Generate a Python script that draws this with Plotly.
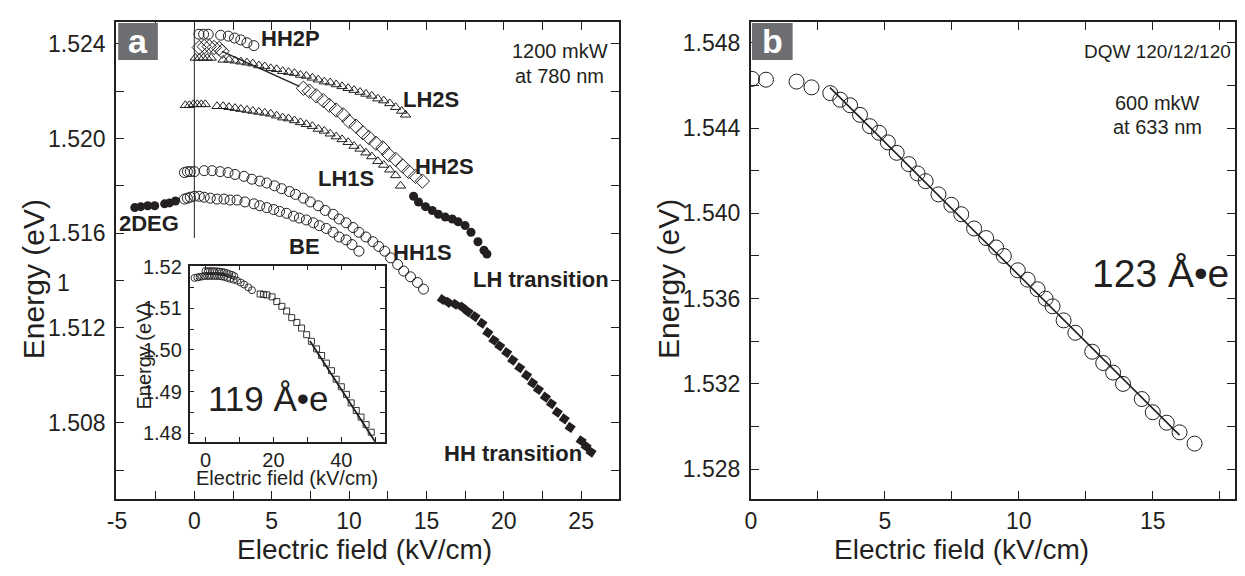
import plotly.graph_objects as go

# ---------------- Panel a : main data ----------------
hh2p_x = [0.3, 0.6, 0.9, 1.7, 2.2, 2.6, 3.0, 3.4, 3.85]
hh2p_E = [1.5244, 1.5244, 1.5244, 1.52436, 1.52432, 1.52424, 1.52416, 1.52404, 1.52392]

hh2s_x = [0.32, 0.64, 0.96, 1.28, 1.6, 1.79,
          7.05, 7.44, 7.88, 8.33, 8.72, 9.17, 9.62, 10.0, 10.45, 10.9, 11.28, 11.73,
          12.18, 12.56, 13.01, 13.46, 13.85, 14.29, 14.74]
hh2s_E = [1.52384, 1.52388, 1.52388, 1.52384, 1.5238, 1.52368,
          1.52212, 1.522, 1.5218, 1.5216, 1.5214, 1.5212, 1.521, 1.52072, 1.52052, 1.52024, 1.52004, 1.5198,
          1.5196, 1.51932, 1.51912, 1.51884, 1.5186, 1.5184, 1.5182]
hh2s_fit_x = [1.79, 6.79]
hh2s_fit_E = [1.52368, 1.5222]

lh2s_x = [0.06, 0.32, 0.58, 0.83, 1.09, 1.86, 2.24, 2.63, 3.01, 3.40, 3.78, 4.17, 4.55, 4.94, 5.32,
          5.71, 6.09, 6.47, 6.86, 7.24, 7.63, 8.01, 8.40, 8.78, 9.17, 9.55, 9.94, 10.32, 10.71,
          11.09, 11.47, 11.86, 12.24, 12.63, 13.01, 13.40, 13.65]
lh2s_E = [1.5234, 1.5234, 1.5234, 1.5234, 1.5234, 1.52332, 1.52332, 1.52328, 1.52324, 1.5232, 1.52316,
          1.52308, 1.52304, 1.52296, 1.52292, 1.52284, 1.5228, 1.52276, 1.52268, 1.52264, 1.52256,
          1.52248, 1.5224, 1.52236, 1.52228, 1.5222, 1.52212, 1.52204, 1.52196, 1.52188, 1.5218,
          1.52168, 1.5216, 1.52148, 1.52132, 1.52116, 1.521]

lh1s_x = [-0.58, -0.32, -0.06, 0.19, 0.45, 0.71, 1.47, 1.86, 2.24, 2.63, 3.01, 3.40, 3.78, 4.17, 4.55,
          4.94, 5.32, 5.71, 6.09, 6.47, 6.86, 7.24, 7.63, 8.01, 8.40, 8.78, 9.17, 9.55, 9.94, 10.32,
          10.71, 11.09, 11.47, 11.86, 12.24, 12.63, 13.01, 13.33]
lh1s_E = [1.5214, 1.5214, 1.52144, 1.52144, 1.52144, 1.52144, 1.52136, 1.52136, 1.52132, 1.52128,
          1.52124, 1.5212, 1.52116, 1.52112, 1.52108, 1.52104, 1.52096, 1.52088, 1.52084, 1.52076,
          1.52068, 1.5206, 1.52052, 1.5204, 1.52032, 1.5202, 1.52008, 1.51996, 1.51984, 1.51968,
          1.51956, 1.5194, 1.51924, 1.51904, 1.51888, 1.51868, 1.51844, 1.518]

hh1s_x = [-0.64, -0.45, -0.26, 0.0, 0.64, 1.15, 1.67, 2.18, 2.63, 3.21, 3.72, 4.23, 4.68, 5.19, 5.64,
          6.15, 6.54, 7.05, 7.5, 8.01, 8.46, 8.97, 9.36, 9.81, 10.26, 10.64, 11.09, 11.54, 11.92,
          12.31, 12.69, 13.14, 13.53, 13.97, 14.42, 14.81]
hh1s_E = [1.51856, 1.5186, 1.5186, 1.5186, 1.51864, 1.51864, 1.5186, 1.51856, 1.51848, 1.5184,
          1.51828, 1.5182, 1.51812, 1.518, 1.51788, 1.51776, 1.51764, 1.51748, 1.51732, 1.51716,
          1.51696, 1.5168, 1.5166, 1.51644, 1.51624, 1.51604, 1.51584, 1.51564, 1.51544, 1.51524,
          1.51496, 1.51468, 1.5144, 1.51416, 1.51392, 1.51364]

be_x = [-0.64, -0.45, -0.26, 0.0, 0.32, 0.64, 1.03, 1.47, 1.92, 2.31, 2.76, 3.27, 3.85, 4.23, 4.68,
        5.13, 5.51, 5.96, 6.41, 6.79, 7.24, 7.69, 8.08, 8.53, 8.97, 9.36, 9.81, 10.19, 10.64]
be_E = [1.51744, 1.51748, 1.51752, 1.51756, 1.51756, 1.51752, 1.51748, 1.51744, 1.51744, 1.5174,
        1.5174, 1.51732, 1.51724, 1.51716, 1.51708, 1.517, 1.51692, 1.51684, 1.51672, 1.51664,
        1.51656, 1.51644, 1.51632, 1.5162, 1.51604, 1.51584, 1.51572, 1.51552, 1.51524]

deg2_x = [-3.85, -3.46, -3.01, -2.56, -1.92, -1.6, -1.22]
deg2_E = [1.51708, 1.51712, 1.51716, 1.51716, 1.51724, 1.51728, 1.51736]

lh_tr_x = [14.17, 14.49, 14.94, 15.38, 15.77, 16.22, 16.67, 17.05, 17.5, 17.88, 18.33, 18.72, 18.91]
lh_tr_E = [1.51756, 1.51732, 1.51712, 1.51696, 1.5168, 1.51668, 1.5166, 1.51648, 1.51632, 1.51604,
           1.51564, 1.51528, 1.51512]

hh_tr_x = [16.03, 16.41, 16.86, 17.31, 17.69, 18.14, 18.59, 18.97, 19.36, 19.74, 20.19, 20.58, 21.03,
           21.47, 21.86, 22.24, 22.69, 23.08, 23.46, 23.91, 24.29, 25.0, 25.32, 25.64]
hh_tr_E = [1.5132, 1.51308, 1.513, 1.51288, 1.51268, 1.51248, 1.5122, 1.5118, 1.51148, 1.51124,
           1.51096, 1.51064, 1.51032, 1.51, 1.50968, 1.5094, 1.50908, 1.5088, 1.50844, 1.50816,
           1.5078, 1.50724, 1.507, 1.50676]

zero_x = [0, 0]
zero_E = [1.5158, 1.5246]

# ---------------- Panel a : inset ----------------
ins_lo_x = [-3.2, -2.4, -1.75, -1.0, -0.3, 0.5, 1.17, 1.9, 2.63, 3.4, 4.09, 4.8, 5.55, 6.4, 7.3,
            8.3, 9.34, 10.4, 11.4, 12.6, 13.7]
ins_lo_E = [1.51727, 1.5174, 1.5175, 1.5176, 1.51773, 1.51773, 1.51773, 1.51775, 1.51773, 1.51773,
            1.51773, 1.51762, 1.5175, 1.5173, 1.51705, 1.51683, 1.51659, 1.51615, 1.51568, 1.515,
            1.51432]
ins_up_x = [0.0, 0.7, 1.3, 2.0, 2.6, 3.4, 4.1, 4.8, 5.5, 6.3, 7.0, 7.8, 8.5]
ins_up_E = [1.5189, 1.5189, 1.5189, 1.5189, 1.5189, 1.51885, 1.5188, 1.5187, 1.5186, 1.5184,
            1.5182, 1.518, 1.5177]
ins_sq_x = [16.1, 17.1, 18.1, 19.6, 21.0, 22.5, 23.9, 25.4, 26.9, 28.3, 29.8, 31.2, 32.7, 34.2, 35.6,
            37.1, 38.5, 40.0, 41.5, 42.9, 44.4, 45.8, 47.3, 48.8]
ins_sq_E = [1.51341, 1.5133, 1.51318, 1.51273, 1.51159, 1.51045, 1.50932, 1.50773, 1.50659, 1.50523,
            1.50364, 1.50205, 1.50023, 1.49864, 1.49682, 1.495, 1.49295, 1.49114, 1.48932,
            1.48727, 1.48545, 1.48386, 1.48205, 1.48023]
ins_fit_x = [30.75, 52.5]
ins_fit_E = [1.50211, 1.47475]

# ---------------- Panel b ----------------
b_x = [0.04, 0.56, 1.7, 2.26, 2.96, 3.33, 3.7, 4.07, 4.44, 4.78, 5.11, 5.44, 5.89, 6.22, 6.52, 7.0,
       7.48, 7.85, 8.33, 8.78, 9.15, 9.44, 9.96, 10.33, 10.7, 11.0, 11.26, 11.67, 12.11, 12.74,
       13.15, 13.52, 13.89, 14.59, 15.0, 15.52, 16.0, 16.56]
b_E = [1.54631, 1.54627, 1.54618, 1.54591, 1.54564, 1.54533, 1.54507, 1.54462, 1.54409, 1.54378,
       1.54333, 1.54284, 1.54231, 1.54187, 1.54151, 1.54089, 1.5404, 1.53996, 1.53929, 1.53884,
       1.5384, 1.538, 1.53733, 1.53689, 1.53644, 1.536, 1.53564, 1.53498, 1.5344, 1.53351,
       1.53298, 1.53253, 1.532, 1.53129, 1.53067, 1.53018, 1.52973, 1.5292]
b_fit_x = [2.95, 16.0]
b_fit_E = [1.5459, 1.5296]

# ---------------- ticks ----------------
a_xtick_vals = [-5, 0, 5, 10, 15, 20, 25]
a_xtick_text = ["-5", "0", "5", "10", "15", "20", "25"]
a_xminor = [-2.5, 2.5, 7.5, 12.5, 17.5, 22.5]
a_ytick_vals = [1.508, 1.512, 1.516, 1.520, 1.524]
a_ytick_text = ["1.508", "1.512", "1.516", "1.520", "1.524"]
a_yminor = [1.506, 1.510, 1.514, 1.518, 1.522]

in_xtick_vals = [0, 20, 40]
in_xtick_text = ["0", "20", "40"]
in_xminor = [10, 30, 50]
in_ytick_vals = [1.48, 1.49, 1.50, 1.51, 1.52]
in_ytick_text = ["1.48", "1.49", "1.50", "1.51", "1.52"]
in_yminor = [1.485, 1.495, 1.505, 1.515]

b_xtick_vals = [0, 5, 10, 15]
b_xtick_text = ["0", "5", "10", "15"]
b_xminor = [2.5, 7.5, 12.5, 17.5]
b_ytick_vals = [1.528, 1.532, 1.536, 1.540, 1.544, 1.548]
b_ytick_text = ["1.528", "1.532", "1.536", "1.540", "1.544", "1.548"]
b_yminor = [1.530, 1.534, 1.538, 1.542, 1.546]

# ---------------- figure ----------------
PAGE_OFF = 8               # default page margin around the plot div
W, H = 1245 - 2 * PAGE_OFF, 576 - 2 * PAGE_OFF
INK = "#231f20"
FONT = "Liberation Sans, Arial, sans-serif"

def px(x):
    return (x - PAGE_OFF) / W

def py(y):
    return 1 - (y - PAGE_OFF) / H

fig = go.Figure()

def scatter(x, y, xa, ya, symbol, size, filled=False, angle=0, lw=1.0):
    if filled:
        marker = dict(symbol=symbol, size=size, color=INK, angle=angle, line=dict(width=0))
    else:
        marker = dict(symbol=symbol, size=size, color=INK, angle=angle, line=dict(width=lw, color=INK))
    fig.add_trace(go.Scatter(x=x, y=y, mode="markers", marker=marker, xaxis=xa, yaxis=ya,
                             showlegend=False, hoverinfo="skip"))

def line(x, y, xa, ya, width=1.3):
    fig.add_trace(go.Scatter(x=x, y=y, mode="lines", line=dict(color=INK, width=width),
                             xaxis=xa, yaxis=ya, showlegend=False, hoverinfo="skip"))

# panel a
line(zero_x, zero_E, "x", "y", 1.0)
line(hh2s_fit_x, hh2s_fit_E, "x", "y", 1.3)
scatter(hh2p_x, hh2p_E, "x", "y", "circle-open", 10)
scatter(hh2s_x, hh2s_E, "x", "y", "diamond-open", 11)
scatter(lh2s_x, lh2s_E, "x", "y", "triangle-up-open", 9)
scatter(lh1s_x, lh1s_E, "x", "y", "triangle-up-open", 9)
scatter(hh1s_x, hh1s_E, "x", "y", "circle-open", 10)
scatter(be_x, be_E, "x", "y", "circle-open", 10)
scatter(deg2_x, deg2_E, "x", "y", "circle", 9, filled=True)
scatter(lh_tr_x, lh_tr_E, "x", "y", "circle", 9, filled=True)
scatter(hh_tr_x, hh_tr_E, "x", "y", "square", 8, filled=True, angle=35)

# inset
line(ins_fit_x, ins_fit_E, "x3", "y3", 1.8)
scatter(ins_lo_x, ins_lo_E, "x3", "y3", "circle-open", 7, lw=0.9)
scatter(ins_up_x, ins_up_E, "x3", "y3", "circle-open", 7, lw=0.9)
scatter(ins_sq_x, ins_sq_E, "x3", "y3", "square-open", 6, lw=0.9)

# panel b
line(b_fit_x, b_fit_E, "x2", "y2", 1.6)
scatter(b_x, b_E, "x2", "y2", "circle-open", 15)

def axis(domain, rng, vals, text, minor_vals, anchor, size=23, lw=2, tlen=8, standoff=5):
    return dict(domain=domain, range=rng, anchor=anchor, showline=True, linewidth=lw,
                linecolor=INK, mirror="ticks", ticks="inside", ticklen=tlen, tickwidth=1.3,
                tickcolor=INK, tickmode="array", tickvals=vals, ticktext=text,
                tickfont=dict(family=FONT, size=size, color=INK),
                minor=dict(tickmode="array", tickvals=minor_vals, ticks="inside",
                           ticklen=tlen, tickwidth=1.3, tickcolor=INK),
                showgrid=False, zeroline=False, ticklabelstandoff=standoff, fixedrange=True)

TOP, BOTTOM = 12, 500

fig.update_layout(
    width=W, height=H,
    margin=dict(l=0, r=0, t=0, b=0),
    paper_bgcolor="white", plot_bgcolor="white",
    font=dict(family=FONT, color=INK),
    xaxis=axis([px(108), px(615)], [-5.05, 27.45], a_xtick_vals, a_xtick_text, a_xminor, "y",
               standoff=0),
    yaxis=axis([py(BOTTOM), py(TOP)], [1.50476, 1.52492], a_ytick_vals, a_ytick_text, a_yminor, "x",
               standoff=4),
    xaxis2=axis([px(748), px(1236)], [0, 18.07], b_xtick_vals, b_xtick_text, b_xminor, "y2",
                standoff=0),
    yaxis2=axis([py(BOTTOM), py(TOP)], [1.52658, 1.54898], b_ytick_vals, b_ytick_text, b_yminor, "x2",
                standoff=4),
    xaxis3=axis([px(182), px(379)], [-4.67, 52.85], in_xtick_vals, in_xtick_text, in_xminor, "y3",
                size=20, lw=1.5, tlen=5, standoff=0),
    yaxis3=axis([py(441), py(261)], [1.47795, 1.52023], in_ytick_vals, in_ytick_text, in_yminor, "x3",
                size=20, lw=1.5, tlen=5, standoff=2),
)

# panel label boxes
for x0, x1 in [(110, 150), (749, 790)]:
    fig.add_shape(type="rect", xref="paper", yref="paper", x0=px(x0), x1=px(x1),
                  y0=py(51), y1=py(13), fillcolor="#6d6e71", line=dict(width=0), layer="above")

ann = []

def txt(text, x, y, size, xref="paper", yref="paper", bold=False, color=INK, angle=0,
        xanchor="center", yanchor="middle"):
    ann.append(dict(text=("<b>%s</b>" % text) if bold else text, x=x, y=y, xref=xref, yref=yref,
                    showarrow=False, font=dict(family=FONT, size=size, color=color),
                    textangle=angle, xanchor=xanchor, yanchor=yanchor))

txt("a", px(130), py(31), 34, bold=True, color="white")
txt("b", px(770), py(31), 34, bold=True, color="white")

# axis titles
txt("Energy (eV)", px(24), py(275), 30, angle=-90)
txt("Electric field (kV/cm)", px(358), py(551), 28)
txt("Energy (eV)", px(665), py(275), 30, angle=-90)
txt("Electric field (kV/cm)", px(960), py(551), 28)
txt("1", px(55), py(279), 23)

# inset titles
txt("Energy (eV)", px(136), py(353), 20, angle=-90)
txt("Electric field (kV/cm)", px(280), py(478), 20)

# panel a curve labels (data coordinates)
txt("HH2P", 6.2, 1.52424, 22, "x", "y", bold=True)
txt("LH2S", 15.3, 1.52164, 22, "x", "y", bold=True)
txt("LH1S", 9.8, 1.51832, 22, "x", "y", bold=True)
txt("HH2S", 16.2, 1.5188, 22, "x", "y", bold=True)
txt("HH1S", 14.74, 1.5152, 22, "x", "y", bold=True)
txt("BE", 7.1, 1.51544, 22, "x", "y", bold=True)
txt("2DEG", -2.95, 1.5164, 22, "x", "y", bold=True)
txt("LH transition", 22.4, 1.51404, 22, "x", "y", bold=True)
txt("HH transition", 20.6, 1.50672, 22, "x", "y", bold=True)
txt("1200 mkW", px(555), py(42), 20)
txt("at 780 nm", px(555), py(67), 20)
txt("119 Å•e", 18.7, 1.48841, 35, "x3", "y3")

# panel b texts
txt("DQW 120/12/120", px(1158), py(42), 19)
txt("600 mkW", px(1158), py(95), 20)
txt("at 633 nm", px(1158), py(119), 20)
txt("123 Å•e", 15.3, 1.53716, 39, "x2", "y2")

fig.update_layout(annotations=ann)

fig.write_html("out.html")
